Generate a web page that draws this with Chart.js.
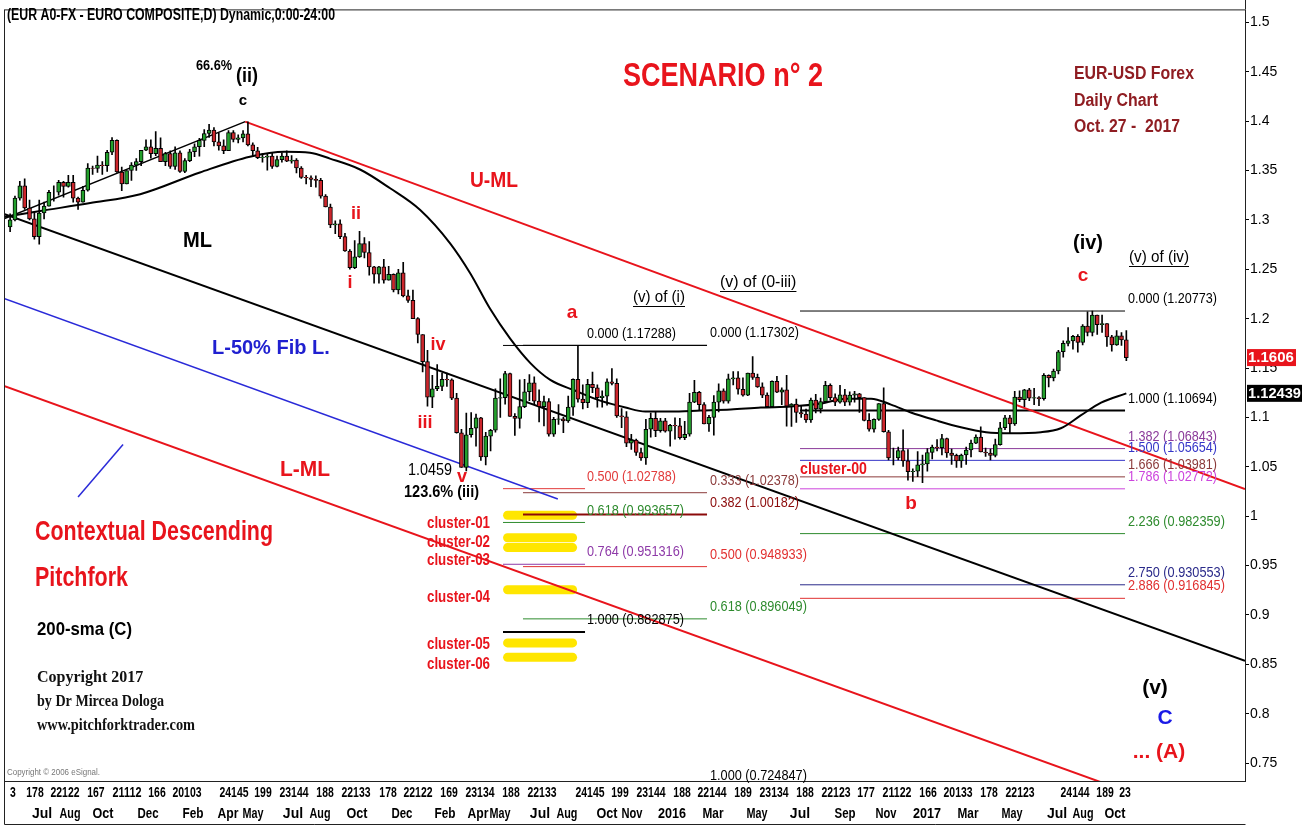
<!DOCTYPE html>
<html>
<head>
<meta charset="utf-8">
<script src="https://cdn.jsdelivr.net/npm/chart.js@4.4.1/dist/chart.umd.min.js"></script>
<style>
  html, body { margin: 0; padding: 0; background: #fff; }
  #wrap { width: 1304px; height: 826px; }
</style>
</head>
<body>
<div id="wrap"><canvas id="chart" width="1304" height="826"></canvas></div>
<script>
// weekly EUR/USD bars, week 0 = 27 May 2013, last = 23-27 Oct 2017
const firstOpen = 1.2930;
const weekCloses = [
  1.3000,1.3220,1.3345,1.3120,1.3010,1.2830,1.3070,1.3140,1.3280,1.3280,
  1.3380,1.3340,1.3380,1.3220,1.3180,1.3300,1.3525,1.3520,1.3555,1.3550,
  1.3685,1.3805,1.3485,1.3365,1.3500,1.3555,1.3590,1.3705,1.3740,1.3670,
  1.3725,1.3590,1.3670,1.3540,1.3680,1.3490,1.3600,1.3690,1.3740,1.3805,
  1.3875,1.3910,1.3790,1.3750,1.3700,1.3885,1.3815,1.3830,1.3870,1.3760,
  1.3700,1.3630,1.3635,1.3645,1.3540,1.3610,1.3645,1.3595,1.3605,1.3525,
  1.3430,1.3425,1.3410,1.3400,1.3240,1.3130,1.2950,1.2960,1.2830,1.2685,
  1.2515,1.2625,1.2760,1.2670,1.2525,1.2450,1.2525,1.2390,1.2450,1.2290,
  1.2465,1.2230,1.2185,1.2000,1.1840,1.1565,1.1205,1.1290,1.1315,1.1385,
  1.1380,1.1195,1.0845,1.0495,1.0825,1.0890,1.0995,1.0600,1.0810,1.0870,
  1.1195,1.1200,1.1445,1.1010,1.0990,1.1110,1.1260,1.1350,1.1165,1.1110,
  1.1160,1.0830,1.0980,1.0985,1.0965,1.1105,1.1385,1.1185,1.1150,1.1335,
  1.1300,1.1200,1.1215,1.1360,1.1345,1.1015,1.1005,1.0740,1.0770,1.0645,
  1.0590,1.0880,1.0990,1.0865,1.0965,1.0860,1.0920,1.0915,1.0795,1.0830,
  1.1155,1.1255,1.1130,1.0935,1.1000,1.1155,1.1270,1.1165,1.1390,1.1400,
  1.1285,1.1225,1.1450,1.1405,1.1310,1.1225,1.1110,1.1365,1.1255,1.1280,
  1.1115,1.1135,1.1050,1.1035,1.0975,1.1175,1.1085,1.1160,1.1325,1.1200,
  1.1155,1.1230,1.1155,1.1225,1.1240,1.1200,1.0970,1.0880,1.0980,1.1140,
  1.0855,1.0590,1.0590,1.0665,1.0560,1.0450,1.0455,1.0520,1.0530,1.0645,
  1.0700,1.0695,1.0785,1.0640,1.0615,1.0560,1.0620,1.0670,1.0740,1.0800,
  1.0650,1.0640,1.0615,1.0725,1.0895,1.0995,1.0935,1.1205,1.1180,1.1280,
  1.1195,1.1200,1.1190,1.1425,1.1400,1.1470,1.1665,1.1750,1.1775,1.1820,
  1.1760,1.1925,1.1860,1.2035,1.1940,1.1950,1.1815,1.1735,1.1825,1.1785,
  1.1606
];
const weekHighs = [
  1.3060,1.3240,1.3390,1.3416,1.3200,1.3080,1.3200,1.3180,1.3300,1.3345,
  1.3400,1.3390,1.3450,1.3450,1.3230,1.3340,1.3570,1.3545,1.3645,1.3590,
  1.3705,1.3832,1.3810,1.3535,1.3500,1.3580,1.3620,1.3705,1.3810,1.3810,
  1.3893,1.3830,1.3685,1.3700,1.3740,1.3700,1.3620,1.3715,1.3770,1.3825,
  1.3915,1.3967,1.3935,1.3880,1.3810,1.3905,1.3905,1.3860,1.3905,1.3993,
  1.3780,1.3735,1.3670,1.3670,1.3675,1.3645,1.3680,1.3700,1.3650,1.3620,
  1.3540,1.3450,1.3445,1.3445,1.3420,1.3255,1.3160,1.2990,1.3000,1.2865,
  1.2700,1.2790,1.2885,1.2820,1.2780,1.2530,1.2530,1.2600,1.2530,1.2455,
  1.2500,1.2570,1.2290,1.2290,1.2010,1.1840,1.1680,1.1425,1.1535,1.1450,
  1.1450,1.1390,1.1245,1.0880,1.1045,1.1050,1.1035,1.1000,1.0850,1.0880,
  1.1290,1.1390,1.1467,1.1450,1.1040,1.1380,1.1385,1.1435,1.1410,1.1280,
  1.1215,1.1190,1.1000,1.1130,1.1000,1.1215,1.1390,1.1729,1.1330,1.1385,
  1.1460,1.1330,1.1270,1.1390,1.1495,1.1390,1.1090,1.1060,1.0830,1.0780,
  1.0690,1.0980,1.1045,1.1060,1.0990,1.0990,1.0930,1.0995,1.0990,1.0960,
  1.1245,1.1376,1.1265,1.1150,1.1020,1.1220,1.1340,1.1290,1.1440,1.1465,
  1.1465,1.1400,1.1450,1.1616,1.1440,1.1350,1.1250,1.1370,1.1415,1.1300,
  1.1427,1.1140,1.1185,1.1120,1.1085,1.1195,1.1235,1.1195,1.1366,1.1340,
  1.1240,1.1325,1.1285,1.1260,1.1265,1.1245,1.1200,1.1040,1.0985,1.1140,
  1.1299,1.0870,1.0690,1.0700,1.0875,1.0675,1.0480,1.0655,1.0620,1.0685,
  1.0720,1.0775,1.0830,1.0790,1.0680,1.0630,1.0630,1.0700,1.0770,1.0825,
  1.0905,1.0690,1.0680,1.0780,1.0950,1.1020,1.1020,1.1265,1.1268,1.1285,
  1.1295,1.1295,1.1210,1.1445,1.1430,1.1490,1.1680,1.1775,1.1910,1.1830,
  1.1840,1.1940,1.2070,1.2077,1.2035,1.2035,1.1950,1.1830,1.1880,1.1860,
  1.1880
];
const weekLows = [
  1.2880,1.2990,1.3200,1.3105,1.3000,1.2805,1.2755,1.3010,1.3140,1.3190,
  1.3250,1.3230,1.3330,1.3180,1.3105,1.3180,1.3290,1.3460,1.3480,1.3460,
  1.3490,1.3660,1.3480,1.3295,1.3365,1.3400,1.3500,1.3550,1.3700,1.3625,
  1.3650,1.3590,1.3550,1.3520,1.3510,1.3480,1.3477,1.3590,1.3640,1.3645,
  1.3740,1.3835,1.3750,1.3705,1.3670,1.3700,1.3790,1.3780,1.3790,1.3750,
  1.3650,1.3620,1.3585,1.3503,1.3520,1.3535,1.3585,1.3590,1.3575,1.3475,
  1.3420,1.3365,1.3335,1.3330,1.3220,1.3130,1.2920,1.2860,1.2810,1.2680,
  1.2500,1.2505,1.2620,1.2615,1.2440,1.2358,1.2360,1.2360,1.2390,1.2270,
  1.2250,1.2220,1.2165,1.2000,1.1755,1.1460,1.1115,1.1098,1.1270,1.1270,
  1.1315,1.1180,1.0840,1.0495,1.0459,1.0800,1.0710,1.0565,1.0520,1.0660,
  1.0850,1.1000,1.1135,1.1010,1.0819,1.0890,1.1100,1.1170,1.1130,1.0955,
  1.0915,1.0810,1.0808,1.0930,1.0845,1.0950,1.1020,1.1155,1.1085,1.1100,
  1.1250,1.1105,1.1105,1.1125,1.1330,1.1000,1.0895,1.0705,1.0675,1.0615,
  1.0565,1.0524,1.0800,1.0805,1.0850,1.0850,1.0710,1.0780,1.0780,1.0775,
  1.0810,1.1150,1.1070,1.0935,1.0858,1.0820,1.1055,1.1145,1.1145,1.1330,
  1.1235,1.1215,1.1220,1.1385,1.1305,1.1200,1.1100,1.1098,1.1250,1.1130,
  1.0912,1.0910,1.0950,1.1000,1.0950,1.0950,1.1045,1.1045,1.1150,1.1180,
  1.1120,1.1145,1.1120,1.1125,1.1155,1.1050,1.0965,1.0860,1.0850,1.0970,
  1.0850,1.0570,1.0520,1.0570,1.0505,1.0365,1.0352,1.0400,1.0340,1.0455,
  1.0580,1.0660,1.0620,1.0595,1.0525,1.0494,1.0495,1.0525,1.0600,1.0735,
  1.0650,1.0605,1.0569,1.0600,1.0720,1.0875,1.0840,1.0920,1.1160,1.1110,
  1.1170,1.1130,1.1120,1.1175,1.1310,1.1370,1.1440,1.1610,1.1725,1.1690,
  1.1660,1.1735,1.1825,1.1825,1.1840,1.1860,1.1720,1.1670,1.1730,1.1730,
  1.1574
];

// 200-sma (week, value)
const smaWeeks  = [-1.3, 6.2, 16.5, 26.8, 39.1, 49.4, 56.6, 61.8, 65.9, 72.1, 78.3, 84.5, 90.7, 94.8, 98.9,
  103.0, 107.2, 111.3, 116.5, 121.6, 126.8, 130.9, 136.1, 142.3, 148.5, 154.7, 160.9, 167.1, 172.2, 177.4,
  181.5, 185.6, 190.8, 195.9, 201.1, 206.2, 212.4, 216.5, 220.6, 224.8, 230];
const smaValues = [1.303, 1.309, 1.317, 1.326, 1.348, 1.364, 1.369, 1.368, 1.362, 1.351, 1.332, 1.310, 1.276, 1.246, 1.210,
  1.180, 1.155, 1.138, 1.127, 1.117, 1.110, 1.106, 1.106, 1.107, 1.108, 1.110, 1.111, 1.114, 1.119, 1.119,
  1.113, 1.105, 1.097, 1.090, 1.085, 1.084, 1.085, 1.089, 1.102, 1.115, 1.12439];

// pitchfork and trend lines, [week, price] end points
const medianLine  = [[-1.26, 1.306], [254.45, 0.8536]];
const upperML     = [[48.44, 1.3995], [254.45, 1.0275]];
const lowerML     = [[-1.26, 1.132], [254.45, 0.678]];
const fib50Line   = [[-1.26, 1.2205], [112.86, 1.0174]];
const blueStroke  = [[14.0, 1.0195], [23.27, 1.0727]];
const trendLine   = [[-1.26, 1.301], [48.44, 1.3995]];

// fibonacci projections
const fibRatiosA = ['0.000', '0.500', '0.618', '0.764', '1.000'];
const fibPricesA = [1.17288, 1.02788, 0.993657, 0.951316, 0.882875];
const fibSpanA = [101.56, 118.46];
const fibRatiosB = ['0.000', '0.333', '0.382', '0.500', '0.618', '1.000'];
const fibPricesB = [1.17302, 1.02378, 1.00182, 0.948933, 0.896049, 0.724847];
const fibSpanB = [105.68, 143.6];
const fibRatiosC = ['0.000', '1.000', '1.382', '1.500', '1.666', '1.786', '2.236', '2.750', '2.886'];
const fibPricesC = [1.20773, 1.10694, 1.06843, 1.05654, 1.03981, 1.02772, 0.982359, 0.930553, 0.916845];
const fibSpanC = [162.76, 229.73];

// yellow cluster zones
const clusterPrices = [1.0009, 0.9782, 0.9682, 0.9255, 0.8717, 0.8571];
const clusterSpan = [102.5, 115.9];

// axis ticks
const priceTicks = [1.5, 1.45, 1.4, 1.35, 1.3, 1.25, 1.2, 1.15, 1.1, 1.05, 1, 0.95, 0.9, 0.85, 0.8, 0.75];
const dayTickPos = [0.59, 5.13, 11.31, 17.69, 24.08, 30.27, 36.45, 46.13, 52.11, 58.5, 64.89, 71.27, 77.87,
  84.05, 90.44, 96.82, 103.21, 109.6, 119.49, 125.67, 132.06, 138.45, 144.63, 151.02, 157.41, 163.8,
  170.18, 176.36, 182.75, 189.14, 195.32, 201.71, 208.1, 219.43, 225.61, 229.74];
const dayTickLabels = ['3', '178', '22122', '167', '21112', '166', '20103', '24145', '199', '23144', '188',
  '22133', '178', '22122', '169', '23134', '188', '22133', '24145', '199', '23144', '188', '22144', '189',
  '23134', '188', '22123', '177', '21122', '166', '20133', '178', '22123', '24144', '189', '23'];
const monthTickPos = [6.57, 12.34, 19.14, 28.41, 37.68, 44.89, 50.04, 58.28, 63.85, 71.47, 80.74, 89.6,
  96.4, 100.94, 109.18, 114.74, 122.98, 128.13, 136.38, 144.83, 153.89, 162.75, 172.03, 180.47, 188.92,
  197.37, 206.44, 215.71, 221.07, 227.66];
const monthTickLabels = ['Jul', 'Aug', 'Oct', 'Dec', 'Feb', 'Apr', 'May', 'Jul', 'Aug', 'Oct', 'Dec', 'Feb',
  'Apr', 'May', 'Jul', 'Aug', 'Oct', 'Nov', '2016', 'Mar', 'May', 'Jul', 'Sep', 'Nov', '2017', 'Mar', 'May',
  'Jul', 'Aug', 'Oct'];

const X_MIN = -1.26, X_MAX = 254.45;
const Y_MIN = 0.7319, Y_MAX = 1.5131;

const NARROW = "'Liberation Sans Narrow', 'Arial Narrow', 'Liberation Sans', Arial, sans-serif";
const SERIF = "'Liberation Serif', 'Times New Roman', serif";
const RED = '#e8141c';
const UP = '#23a02c', DOWN = '#cc262c';

Chart.defaults.font.family = NARROW;
Chart.defaults.color = '#000';

// build candles: a forex week opens where the previous one closed
const bodies = [], wicks = [], bodyColors = [];
weekCloses.forEach((c, i) => {
  const o = i === 0 ? firstOpen : weekCloses[i - 1];
  bodies.push({ x: i, y: [o, c] });
  wicks.push({ x: i, y: [weekLows[i], weekHighs[i]] });
  bodyColors.push(c >= o ? UP : DOWN);
});

function seg(points, color, width, extra) {
  return Object.assign({
    type: 'line',
    data: points.map(p => ({ x: p[0], y: p[1] })),
    borderColor: color,
    borderWidth: width,
    pointRadius: 0,
    fill: false,
    tension: 0,
    clip: 0
  }, extra || {});
}

const fibColorsA = ['#000', '#e23b3b', '#2e8b2e', '#8e3aa8', '#000'];
const fibWidthsA = [1, 1, 1, 1, 2];
const fibColorsB = ['#000', '#8b3a3a', '#8b0a0a', '#e23030', '#2e8b2e', '#000'];
const fibWidthsB = [1, 1, 2, 1, 1, 1];
const fibColorsC = ['#000', '#000', '#8b3a9a', '#3535c8', '#8b3a3a', '#cc44dd', '#2e8b2e', '#2a2a8a', '#e03030'];
const fibWidthsC = [1, 2, 1, 1, 1, 1, 1, 1, 1];

const lineSets = [];
fibPricesA.forEach((p, i) => {
  const end = i === 0 ? fibSpanB[1] : fibSpanA[1];
  lineSets.push(seg([[fibSpanA[0], p], [end, p]], fibColorsA[i], fibWidthsA[i]));
});
fibPricesB.forEach((p, i) => {
  lineSets.push(seg([[fibSpanB[0], p], [fibSpanB[1], p]], fibColorsB[i], fibWidthsB[i]));
});
fibPricesC.forEach((p, i) => {
  lineSets.push(seg([[fibSpanC[0], p], [fibSpanC[1], p]], fibColorsC[i], fibWidthsC[i]));
});
clusterPrices.forEach(p => {
  lineSets.push(seg([[clusterSpan[0], p], [clusterSpan[1], p]], '#ffe600', 9, { borderCapStyle: 'round' }));
});

const datasets = [
  { type: 'bar', data: bodies, backgroundColor: bodyColors, borderColor: '#000', borderWidth: 1,
    borderSkipped: false, barThickness: 4, grouped: false },
  { type: 'bar', data: wicks, backgroundColor: '#000', borderWidth: 0, barThickness: 1, grouped: false },
  seg(smaWeeks.map((w, i) => [w, smaValues[i]]), '#000', 2, { cubicInterpolationMode: 'monotone' }),
  seg(medianLine, '#000', 2),
  seg(upperML, RED, 2),
  seg(lowerML, RED, 2),
  seg(fib50Line, '#2a2ad8', 1.5),
  seg(blueStroke, '#2a2ad8', 1.5),
  seg(trendLine, '#000', 1.5)
].concat(lineSets);

const notes = [
  { t: '(EUR A0-FX - EURO COMPOSITE,D) Dynamic,0:00-24:00', x: 7, y: 16, f: 'bold 16px ' + NARROW, c: '#000', w: 328 },
  { t: 'SCENARIO n° 2', x: 623, y: 77, f: 'bold 34px ' + NARROW, c: RED, w: 200 },
  { t: 'EUR-USD Forex', x: 1074, y: 74, f: 'bold 18px ' + NARROW, c: '#8f1d22', w: 120 },
  { t: 'Daily Chart', x: 1074, y: 101, f: 'bold 18px ' + NARROW, c: '#8f1d22', w: 84 },
  { t: 'Oct. 27 -  2017', x: 1074, y: 127, f: 'bold 18px ' + NARROW, c: '#8f1d22', w: 106 },
  { t: 'U-ML', x: 470, y: 181, f: 'bold 22px ' + NARROW, c: RED, w: 48 },
  { t: 'ML', x: 183, y: 241, f: 'bold 22px ' + NARROW, c: '#000', w: 29 },
  { t: 'L-50% Fib L.', x: 212, y: 348, f: 'bold 20px ' + NARROW, c: '#2020d0', w: 120 },
  { t: 'L-ML', x: 280, y: 470, f: 'bold 22px ' + NARROW, c: RED, w: 50 },
  { t: 'Contextual Descending', x: 35, y: 532, f: 'bold 28px ' + NARROW, c: RED, w: 238 },
  { t: 'Pitchfork', x: 35, y: 578, f: 'bold 28px ' + NARROW, c: RED, w: 93 },
  { t: '200-sma (C)', x: 37, y: 630, f: 'bold 19px ' + NARROW, c: '#000', w: 95 },
  { t: 'Copyright 2017', x: 37, y: 678, f: 'bold 16px ' + SERIF, c: '#111', w: 124 },
  { t: 'by Dr Mircea Dologa', x: 37, y: 702, f: 'bold 16px ' + SERIF, c: '#111', w: 127 },
  { t: 'www.pitchforktrader.com', x: 37, y: 726, f: 'bold 16px ' + SERIF, c: '#111', w: 158 },
  { t: 'Copyright © 2006 eSignal.', x: 7, y: 773, f: '9px ' + NARROW, c: '#777', w: 93 },
  { t: '66.6%', x: 196, y: 66, f: 'bold 15px ' + NARROW, c: '#000', w: 36 },
  { t: '(ii)', x: 236, y: 76, f: 'bold 20px ' + NARROW, c: '#000', w: 22 },
  { t: 'c', x: 243, y: 101, f: 'bold 15px ' + NARROW, c: '#000', a: 'center' },
  { t: 'ii', x: 356, y: 214, f: 'bold 18px ' + NARROW, c: RED, a: 'center' },
  { t: 'i', x: 350, y: 283, f: 'bold 18px ' + NARROW, c: RED, a: 'center' },
  { t: 'iv', x: 438, y: 345, f: 'bold 18px ' + NARROW, c: RED, a: 'center' },
  { t: 'iii', x: 425, y: 423, f: 'bold 18px ' + NARROW, c: RED, a: 'center' },
  { t: 'v', x: 462, y: 477, f: 'bold 18px ' + NARROW, c: RED, a: 'center' },
  { t: '1.0459', x: 408, y: 470, f: '17px ' + NARROW, c: '#000', w: 44 },
  { t: '123.6% (iii)', x: 404, y: 493, f: 'bold 16px ' + NARROW, c: '#000', w: 75 },
  { t: 'a', x: 572, y: 313, f: 'bold 19px ' + NARROW, c: RED, a: 'center' },
  { t: 'b', x: 911, y: 504, f: 'bold 19px ' + NARROW, c: RED, a: 'center' },
  { t: 'c', x: 1083, y: 276, f: 'bold 19px ' + NARROW, c: RED, a: 'center' },
  { t: '(iv)', x: 1088, y: 243, f: 'bold 20px ' + NARROW, c: '#000', a: 'center' },
  { t: '(v) of (iv)', x: 1129, y: 258, f: '16px ' + NARROW, c: '#000', w: 60, u: true },
  { t: '(v) of (0-iii)', x: 720, y: 283, f: '16px ' + NARROW, c: '#000', w: 80, u: true },
  { t: '(v) of (i)', x: 633, y: 298, f: '16px ' + NARROW, c: '#000', w: 52, u: true },
  { t: 'cluster-00', x: 800, y: 469, f: 'bold 17px ' + NARROW, c: RED, w: 67 },
  { t: 'cluster-01', x: 427, y: 523, f: 'bold 17px ' + NARROW, c: RED, w: 63 },
  { t: 'cluster-02', x: 427, y: 542, f: 'bold 17px ' + NARROW, c: RED, w: 63 },
  { t: 'cluster-03', x: 427, y: 560, f: 'bold 17px ' + NARROW, c: RED, w: 63 },
  { t: 'cluster-04', x: 427, y: 597, f: 'bold 17px ' + NARROW, c: RED, w: 63 },
  { t: 'cluster-05', x: 427, y: 644, f: 'bold 17px ' + NARROW, c: RED, w: 63 },
  { t: 'cluster-06', x: 427, y: 664, f: 'bold 17px ' + NARROW, c: RED, w: 63 },
  { t: '(v)', x: 1155, y: 688, f: 'bold 21px ' + NARROW, c: '#000', a: 'center' },
  { t: 'C', x: 1165, y: 718, f: 'bold 21px ' + NARROW, c: '#1a1ae6', a: 'center' },
  { t: '... (A)', x: 1159, y: 752, f: 'bold 21px ' + NARROW, c: RED, a: 'center' }
];

function drawText(ctx, n) {
  ctx.save();
  ctx.font = n.f;
  ctx.fillStyle = n.c;
  ctx.textAlign = n.a || 'left';
  ctx.textBaseline = 'middle';
  if (n.w) ctx.fillText(n.t, n.x, n.y, n.w); else ctx.fillText(n.t, n.x, n.y);
  if (n.u) {
    const wd = Math.min(ctx.measureText(n.t).width, n.w || 9999);
    ctx.strokeStyle = n.c;
    ctx.lineWidth = 1;
    ctx.beginPath();
    ctx.moveTo(n.x, n.y + 8.5);
    ctx.lineTo(n.x + wd, n.y + 8.5);
    ctx.stroke();
  }
  ctx.restore();
}

const annotate = {
  id: 'annotate',
  afterDraw(chart) {
    const ctx = chart.ctx;
    const a = chart.chartArea;
    const xs = chart.scales.x, xm = chart.scales.x2, ys = chart.scales.y;

    // frame
    ctx.save();
    ctx.strokeStyle = '#222';
    ctx.lineWidth = 1;
    ctx.strokeRect(a.left + 0.5, a.top + 0.5, a.right - a.left, a.bottom - a.top);
    ctx.beginPath();
    ctx.moveTo(a.left + 0.5, a.bottom);
    ctx.lineTo(a.left + 0.5, chart.height - 1.5);
    ctx.lineTo(a.right + 0.5, chart.height - 1.5);
    ctx.moveTo(a.right + 0.5, 0);
    ctx.lineTo(a.right + 0.5, a.top);
    ctx.stroke();
    ctx.restore();

    // time axis labels, condensed like the narrow eSignal font
    xs.ticks.forEach((t, i) => {
      const s = dayTickLabels[i];
      drawText(ctx, { t: s, x: xs.getPixelForValue(t.value), y: xs.top + 12, a: 'center',
        f: 'bold 14px ' + NARROW, c: '#000', w: s.length * 5.8 });
    });
    xm.ticks.forEach((t, i) => {
      const s = monthTickLabels[i];
      drawText(ctx, { t: s, x: xm.getPixelForValue(t.value), y: xm.top + 11, a: 'center',
        f: 'bold 14px ' + NARROW, c: '#000', w: s.length * 7 });
    });

    // fib labels
    const fibLabel = (ratios, prices, colors, at) => {
      ratios.forEach((r, i) => {
        const y = ys.getPixelForValue(prices[i]) - 12;
        if (y > a.bottom) return;
        drawText(ctx, { t: r + ' (' + prices[i] + ')', x: xs.getPixelForValue(at), y,
          f: '15px ' + NARROW, c: colors[i], w: String(prices[i]).length > 7 ? 97 : 89 });
      });
    };
    fibLabel(fibRatiosA, fibPricesA, fibColorsA, fibSpanA[1] + 0.4);
    fibLabel(fibRatiosB, fibPricesB, fibColorsB, fibSpanB[1] + 0.6);
    fibLabel(fibRatiosC, fibPricesC, fibColorsC, fibSpanC[1] + 0.6);

    notes.forEach(n => drawText(ctx, n));

    // last price and last sma boxes on the price axis
    const last = weekCloses[weekCloses.length - 1];
    const lastSma = smaValues[smaValues.length - 1];
    const box = (val, txt, bg, w) => {
      const y = ys.getPixelForValue(val);
      ctx.save();
      ctx.fillStyle = bg;
      ctx.fillRect(a.right + 2, y - 8.5, w, 17);
      ctx.font = 'bold 15px ' + NARROW;
      ctx.fillStyle = '#fff';
      ctx.textBaseline = 'middle';
      ctx.fillText(txt, a.right + 3, y + 0.5, w - 2);
      ctx.restore();
    };
    box(last, last.toFixed(4), RED, 49);
    box(lastSma, String(lastSma), '#000', 55);
  }
};

new Chart(document.getElementById('chart'), {
  type: 'bar',
  data: { datasets },
  options: {
    responsive: false,
    animation: false,
    devicePixelRatio: 1,
    layout: { padding: { left: 4, top: 4, right: 0, bottom: 0 } },
    plugins: { legend: { display: false }, tooltip: { enabled: false } },
    scales: {
      x: {
        type: 'linear', position: 'bottom', weight: 0, min: X_MIN, max: X_MAX, offset: false,
        grid: { display: false, offset: false }, border: { display: false },
        afterBuildTicks: s => { s.ticks = dayTickPos.map(v => ({ value: v })); },
        afterFit: s => { s.height = 22; },
        ticks: { display: false, autoSkip: false }
      },
      x2: {
        type: 'linear', position: 'bottom', weight: 1, min: X_MIN, max: X_MAX, offset: false,
        grid: { display: false, offset: false }, border: { display: false },
        afterBuildTicks: s => { s.ticks = monthTickPos.map(v => ({ value: v })); },
        afterFit: s => { s.height = 23; },
        ticks: { display: false, autoSkip: false }
      },
      y: {
        type: 'linear', position: 'right', min: Y_MIN, max: Y_MAX,
        grid: { drawOnChartArea: false, drawTicks: true, tickLength: 4, color: '#000' },
        border: { display: false },
        afterBuildTicks: s => { s.ticks = priceTicks.map(v => ({ value: v })); },
        afterFit: s => { s.width = 59; },
        ticks: { padding: 1, font: { size: 14 }, callback: v => String(v) }
      }
    }
  },
  plugins: [annotate]
});
</script>
</body>
</html>
